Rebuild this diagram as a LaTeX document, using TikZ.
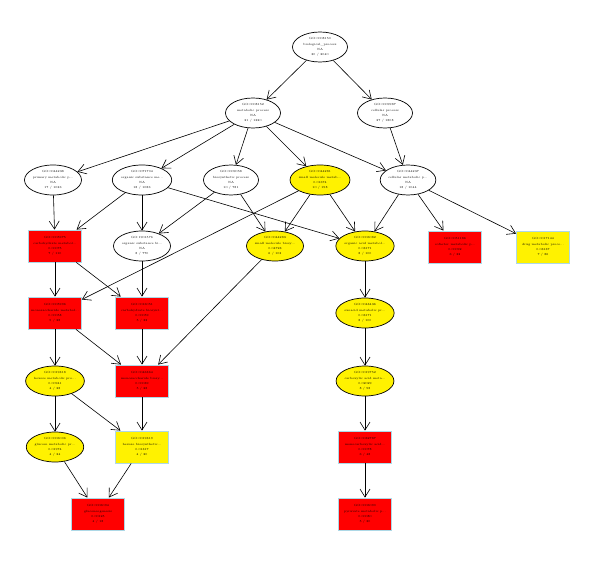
\documentclass[tikz,border=0pt]{standalone}
\usetikzlibrary{shapes.geometric,arrows.meta}
\definecolor{lb}{RGB}{173,216,230}
\begin{document}
\begin{tikzpicture}[x=1pt,y=-1pt,
  lbl/.style={align=center,font=\fontsize{3.0}{5.2}\selectfont,inner sep=0pt},
  ell/.style={lbl,ellipse,draw=black,line width=0.7pt,fill=white,minimum width=55pt,minimum height=30pt},
  ellY/.style={ell,fill=yellow},
  boxR/.style={lbl,rectangle,draw=lb,line width=0.8pt,fill=red,minimum width=53pt,minimum height=32pt},
  boxY/.style={boxR,fill=yellow},
  edge/.style={draw=black,line width=0.6pt,-{Straight Barb[length=8pt,width=10pt]}}]
\useasboundingbox (0,0) rectangle (599,561);
\fill[white] (0,0) rectangle (599,561);
% row 0
\node[ell] (root) at (320,47) {GO:0008150\\biological\_process\\NA\\30 / 2040};
% row 1
\node[ell] (met) at (253,113) {GO:0008152\\metabolic process\\NA\\21 / 1320};
\node[ell] (cel) at (385,113) {GO:0009987\\cellular process\\NA\\27 / 1808};
% row 2
\node[ell] (a44238) at (53,180) {GO:0044238\\primary metabolic p...\\NA\\17 / 1036};
\node[ell] (a71704) at (142,180) {GO:0071704\\organic substance me...\\NA\\18 / 1086};
\node[ell] (a9058) at (231,180) {GO:0009058\\biosynthetic process\\NA\\10 / 781};
\node[ellY] (a44281) at (320,180) {GO:0044281\\small molecule metab...\\0.01674\\10 / 198};
\node[ell] (a44237) at (408,180) {GO:0044237\\cellular metabolic p...\\NA\\18 / 1044};
% row 3
\node[boxR] (a5975) at (55,246) {GO:0005975\\carbohydrate metabol...\\0.00075\\7 / 110};
\node[ell] (a1901576) at (142,246) {GO:1901576\\organic substance bi...\\NA\\8 / 770};
\node[ellY] (a44283) at (275,246) {GO:0044283\\small molecule biosy...\\0.04723\\6 / 103};
\node[ellY] (a6082) at (365,246) {GO:0006082\\organic acid metabol...\\0.03171\\8 / 100};
\node[boxR] (a51186) at (455,247) {GO:0051186\\cofactor metabolic p...\\0.00092\\6 / 32};
\node[boxY] (a17144) at (543,247) {GO:0017144\\drug metabolic proce...\\0.03137\\7 / 86};
% row 4
\node[boxR] (a5996) at (55,313) {GO:0005996\\monosaccharide metabol...\\0.00058\\5 / 28};
\node[boxR] (a16051) at (142,313) {GO:0016051\\carbohydrate biosynt...\\0.00059\\5 / 33};
\node[ellY] (a43436) at (365,313) {GO:0043436\\oxoacid metabolic pr...\\0.03171\\8 / 100};
% row 5
\node[ellY] (a19318) at (55,381) {GO:0019318\\hexose metabolic pro...\\0.00941\\4 / 28};
\node[boxR] (a46364) at (142,381) {GO:0046364\\monosaccharide biosy...\\0.00039\\5 / 28};
\node[ellY] (a19752) at (365,381) {GO:0019752\\carboxylic acid meta...\\0.02029\\8 / 98};
% row 6
\node[ellY] (a6006) at (55,447) {GO:0006006\\glucose metabolic pr...\\0.01974\\4 / 24};
\node[boxY] (a19319) at (142,447) {GO:0019319\\hexose biosynthetic...\\0.01317\\4 / 20};
\node[boxR] (a32787) at (365,447) {GO:0032787\\monocarboxylic acid...\\0.00078\\6 / 48};
% row 7
\node[boxR] (a6094) at (98,514) {GO:0006094\\gluconeogenesis\\0.00125\\4 / 18};
\node[boxR] (a6090) at (365,514) {GO:0006090\\pyruvate metabolic p...\\0.00080\\5 / 30};
% edges
\draw[edge] (root) -- (met);
\draw[edge] (root) -- (cel);
\draw[edge] (met) -- (a44238);
\draw[edge] (met) -- (a71704);
\draw[edge] (met) -- (a9058);
\draw[edge] (met) -- (a44281);
\draw[edge] (met) -- (a44237);
\draw[edge] (cel) -- (a44237);
\draw[edge] (a44238) -- (a5975);
\draw[edge] (a71704) -- (a5975);
\draw[edge] (a71704) -- (a1901576);
\draw[edge] (a71704) -- (a6082);
\draw[edge] (a9058) -- (a1901576);
\draw[edge] (a9058) -- (a44283);
\draw[edge] (a44281) -- (a44283);
\draw[edge] (a44281) -- (a6082);
\draw[edge] (a44281) -- (a5996);
\draw[edge] (a44237) -- (a6082);
\draw[edge] (a44237) -- (a51186);
\draw[edge] (a44237) -- (a17144);
\draw[edge] (a5975) -- (a5996);
\draw[edge] (a5975) -- (a16051);
\draw[edge] (a1901576) -- (a16051);
\draw[edge] (a44283) -- (a46364);
\draw[edge] (a6082) -- (a43436);
\draw[edge] (a5996) -- (a19318);
\draw[edge] (a5996) -- (a46364);
\draw[edge] (a16051) -- (a46364);
\draw[edge] (a43436) -- (a19752);
\draw[edge] (a19318) -- (a6006);
\draw[edge] (a19318) -- (a19319);
\draw[edge] (a46364) -- (a19319);
\draw[edge] (a19752) -- (a32787);
\draw[edge] (a6006) -- (a6094);
\draw[edge] (a19319) -- (a6094);
\draw[edge] (a32787) -- (a6090);
\end{tikzpicture}
\end{document}
